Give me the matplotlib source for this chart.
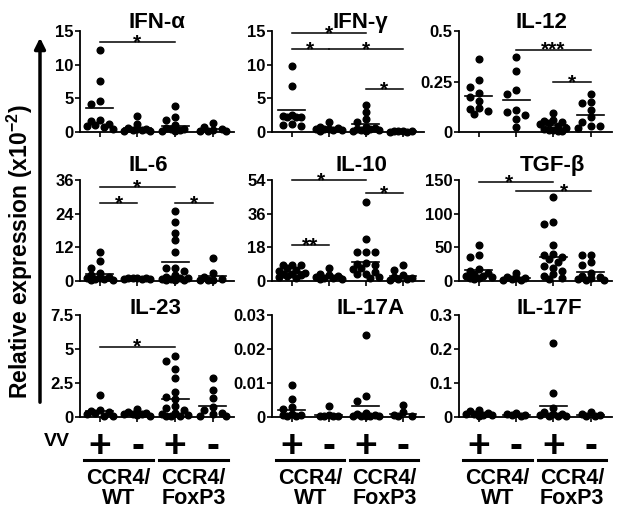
import numpy as np
import matplotlib
matplotlib.use('Agg')
import matplotlib.pyplot as plt
import matplotlib.transforms as mtransforms

plt.rcParams['font.family'] = ['Liberation Sans', 'DejaVu Sans']
plt.rcParams['font.weight'] = 'bold'
plt.rcParams['mathtext.fontset'] = 'custom'
plt.rcParams['mathtext.rm'] = 'Liberation Sans:bold'
plt.rcParams['mathtext.bf'] = 'Liberation Sans:bold'

# groups: CCR4/WT VV+, CCR4/WT VV-, CCR4/FoxP3 VV+, CCR4/FoxP3 VV-
panels = ['IFN-\u03b1', 'IFN-\u03b3', 'IL-12',
          'IL-6', 'IL-10', 'TGF-\u03b2',
          'IL-23', 'IL-17A', 'IL-17F']

yticks = [[0, 5, 10, 15], [0, 5, 10, 15], [0, 0.25, 0.5],
          [0, 12, 24, 36], [0, 18, 36, 54], [0, 50, 100, 150],
          [0, 2.5, 5, 7.5], [0, 0.01, 0.02, 0.03], [0, 0.1, 0.2, 0.3]]
ytick_labels = [['0', '5', '10', '15'], ['0', '5', '10', '15'], ['0', '0.25', '0.5'],
                ['0', '12', '24', '36'], ['0', '18', '36', '54'], ['0', '50', '100', '150'],
                ['0', '2.5', '5', '7.5'], ['0', '0.01', '0.02', '0.03'], ['0', '0.1', '0.2', '0.3']]

ifna = [[12.2, 7.6, 4.6, 4.1, 1.8, 1.6, 1.2, 1.0, 0.9, 0.7, 0.5],
        [2.4, 1.2, 0.6, 0.5, 0.4, 0.3, 0.3, 0.2, 0.2],
        [3.8, 2.2, 1.8, 1.0, 0.6, 0.5, 0.4, 0.3, 0.2, 0.2],
        [1.3, 0.8, 0.5, 0.3, 0.2, 0.2, 0.1]]
ifng = [[9.8, 6.9, 2.5, 2.4, 2.3, 2.3, 2.2, 1.2, 1.1, 0.9],
        [1.5, 0.8, 0.6, 0.5, 0.5, 0.4, 0.3, 0.3, 0.2],
        [4.0, 3.0, 2.0, 1.5, 0.8, 0.6, 0.5, 0.4, 0.3, 0.3, 0.2, 0.2],
        [0.2, 0.15, 0.1, 0.1, 0.05, 0.05]]
il12 = [[0.36, 0.255, 0.225, 0.195, 0.175, 0.155, 0.12, 0.115, 0.105, 0.09],
        [0.37, 0.30, 0.21, 0.19, 0.11, 0.10, 0.085, 0.065, 0.025],
        [0.095, 0.06, 0.055, 0.05, 0.045, 0.04, 0.03, 0.02, 0.015, 0.01, 0.01, 0.005, 0.005],
        [0.19, 0.15, 0.145, 0.11, 0.075, 0.05, 0.03, 0.028, 0.02]]
il6 = [[10.2, 7.0, 4.7, 3.0, 2.0, 1.5, 1.2, 1.0, 0.8, 0.6, 0.5, 0.5],
       [1.2, 1.1, 1.0, 0.9, 0.8, 0.7, 0.6],
       [25, 21, 17.2, 14.7, 10.2, 4.7, 4.6, 3.5, 2.0, 1.5, 1.2, 1.0, 0.8, 0.6, 0.5, 0.4, 0.3],
       [8.2, 3.0, 1.5, 0.8, 0.5, 0.4, 0.3]]
il10 = [[8.6, 8.5, 8.4, 7.0, 6.0, 5.5, 4.5, 4.0, 3.5, 3.0, 2.5, 2.0, 1.5],
        [6.8, 4.0, 3.0, 2.5, 2.0, 1.8, 1.5, 1.2, 1.0],
        [42.3, 22.5, 15.3, 15.3, 15.3, 9.5, 9.0, 8.5, 7.0, 6.3, 5.0, 4.0, 3.6, 2.0, 1.8],
        [8.4, 6.0, 3.0, 2.0, 1.5, 1.2, 1.0, 0.8]]
tgfb = [[53, 39, 36, 18, 15, 12, 10, 8, 7, 6, 5, 4, 3],
        [12, 6, 5, 4, 3, 2, 2],
        [125, 88, 85, 53, 40, 39, 35, 33, 28, 22, 20, 15, 10, 8, 5, 3],
        [39, 38, 28, 24, 12, 8, 6, 4, 3, 2, 1]]
il23 = [[1.6, 0.55, 0.45, 0.35, 0.3, 0.2, 0.1, 0.1],
        [0.6, 0.4, 0.3, 0.25, 0.2, 0.2, 0.15, 0.1],
        [4.45, 4.15, 3.55, 2.85, 1.85, 1.45, 1.35, 0.8, 0.65, 0.5, 0.3, 0.2, 0.15, 0.1, 0.1, 0.1],
        [2.85, 1.95, 1.4, 0.7, 0.5, 0.3, 0.2, 0.1, 0.1]]
il17a = [[0.0095, 0.0053, 0.0030, 0.0025, 0.0008, 0.0005, 0.0005, 0.0003, 0.0002],
         [0.0031, 0.0005, 0.0004, 0.0003, 0.0002, 0.0002],
         [0.024, 0.0062, 0.0048, 0.0012, 0.0008, 0.0005, 0.0004, 0.0003, 0.0003, 0.0002, 0.0002],
         [0.0036, 0.0015, 0.0005, 0.0003, 0.0002]]
il17f = [[0.022, 0.018, 0.012, 0.01, 0.008, 0.006, 0.005, 0.004],
         [0.012, 0.008, 0.006, 0.005, 0.004],
         [0.217, 0.071, 0.027, 0.015, 0.01, 0.008, 0.005, 0.004, 0.003, 0.003],
         [0.014, 0.008, 0.005, 0.004, 0.003]]
values = [ifna, ifng, il12, il6, il10, tgfb, il23, il17a, il17f]

# horizontal mean lines
means = [[3.5, 0.65, 0.85, 0.45], [3.3, 0.6, 1.15, 0.12], [0.178, 0.157, 0.033, 0.086],
         [2.6, 0.9, 6.8, 1.7], [4.9, 2.7, 9.9, 2.7], [15.9, 4.5, 36.3, 14.0],
         [0.45, 0.25, 1.32, 0.78], [0.0021, 0.0005, 0.0031, 0.0008], [0.009, 0.006, 0.032, 0.005]]

# significance brackets: (from group, to group, height, label, star x or None)
signif = [[(0, 2, 13.3, '*', None)],
          [(0, 2, 14.7, '*', None), (0, 1, 12.3, '*', None), (1, 3, 12.3, '*', None), (2, 3, 6.4, '*', None)],
          [(1, 3, 0.408, '***', None), (2, 3, 0.248, '*', None)],
          [(0, 2, 33.4, '*', None), (0, 1, 27.9, '*', None), (2, 3, 27.9, '*', None)],
          [(0, 2, 54.0, '*', 0.8), (2, 3, 46.8, '*', None), (0, 1, 19.3, '**', None)],
          [(0, 2, 147.5, '*', 0.8), (1, 3, 134.0, '*', 2.27)],
          [(0, 2, 5.18, '*', None)],
          [], []]

title_x = [0.5, 0.58, 0.54, 0.44, 0.59, 0.61, 0.49, 0.65, 0.59]
row_title_y = [1.03, 1.09, 1.01]

vv_signs = ['+', '-', '+', '-']
strain_labels = ['CCR4/\nWT', 'CCR4/\nFoxP3']

W, H = 629, 515
col_left = [80, 272, 459]
col_width = [154, 152, 153]
row_top = [31, 180, 315]
row_bottom = [132, 281, 417]


def swarm_x(ax, g, vals, size=6.5):
    # column swarm in pixel space, kept narrow like the original
    cands = [0, -9, 9, -4.5, 4.5, -13, 13]
    pts = ax.transData.transform(np.column_stack([np.full(len(vals), g), vals]))
    unit = ax.transData.transform([[1, 0]])[0, 0] - ax.transData.transform([[0, 0]])[0, 0]
    xs = np.zeros(len(vals))
    placed = []
    for i in np.argsort(vals)[::-1]:
        py = pts[i, 1]
        best, best_d = 0, -1
        for off in cands:
            d = min([np.hypot(off - ox, py - oy) for ox, oy in placed] or [99])
            if d >= size:
                best = off
                break
            if d > best_d:
                best, best_d = off, d
        placed.append((best, py))
        xs[i] = g + best / unit
    return xs


fig = plt.figure(figsize=(W / 100.0, H / 100.0), dpi=100)

axes = []
for p in range(9):
    r, c = p // 3, p % 3
    ax = fig.add_axes([col_left[c] / W, 1 - row_bottom[r] / H,
                       col_width[c] / W, (row_bottom[r] - row_top[r]) / H])
    axes.append(ax)
    ax.set_xlim(-0.53, 3.57)
    ax.set_ylim(0, yticks[p][-1])
    for s in ['top', 'right']:
        ax.spines[s].set_visible(False)
    for s in ['left', 'bottom']:
        ax.spines[s].set_linewidth(1.3)
    ax.set_yticks(yticks[p])
    ax.set_yticklabels(ytick_labels[p], fontsize=12, fontweight='bold')
    ax.set_xticks(range(4))
    ax.set_xticklabels([])
    ax.tick_params(width=1.2, length=3.5, pad=1)

    for g in range(4):
        vals = np.array(values[p][g])
        xs = swarm_x(ax, g, vals)
        ax.plot(xs, vals, 'o', color='black', markersize=4.8, clip_on=False, zorder=3)
        ax.plot([g - 0.36, g + 0.36], [means[p][g]] * 2, color='black', lw=1.2, zorder=4)

    for (g1, g2, h, lab, sx) in signif[p]:
        ax.plot([g1, g2], [h, h], color='black', lw=1.1, clip_on=False)
        if sx is None:
            sx = (g1 + g2) / 2.0
        ax.annotate(lab, (sx, h), xytext=(0, -4.5), textcoords='offset points',
                    ha='center', va='baseline', fontsize=15, fontweight='bold',
                    annotation_clip=False)

    ax.text(title_x[p], row_title_y[r], panels[p], transform=ax.transAxes,
            ha='center', va='baseline', fontsize=16, fontweight='bold')

# VV +/- row and strain labels under the bottom row
fig.text(57 / W, 1 - 441 / H, 'VV', ha='center', va='center', fontsize=14, fontweight='bold')
for c in range(3):
    ax = axes[6 + c]
    trans = mtransforms.blended_transform_factory(ax.transData, fig.transFigure)
    for g in range(4):
        fig.text(g, 1 - 447 / H, vv_signs[g], transform=trans, ha='center', va='center',
                 fontsize=28, fontweight='bold')
    for k in range(2):
        g0 = 2 * k
        fig.add_artist(plt.Line2D([g0 - 0.42, g0 + 1.42], [1 - 460 / H] * 2,
                                  transform=trans, color='black', lw=2.2))
        fig.text(g0 + 0.5, 1 - 468 / H, strain_labels[k], transform=trans,
                 ha='center', va='top', fontsize=15.5, fontweight='bold',
                 linespacing=0.95, family=['Liberation Sans Narrow', 'Liberation Sans'])

# y label and arrow
fig.text(20 / W, 1 - 252 / H, r'Relative expression (x10$^{\mathbf{-2}}$)', rotation=90,
         ha='center', va='center', fontsize=16.5, fontweight='bold')
fig.add_artist(matplotlib.patches.FancyArrowPatch((40 / W, 1 - 405 / H), (40 / W, 1 - 35 / H),
                                                  transform=fig.transFigure, arrowstyle='-|>',
                                                  mutation_scale=16, lw=2.5, color='black'))

fig.savefig('out.png', dpi=100)
